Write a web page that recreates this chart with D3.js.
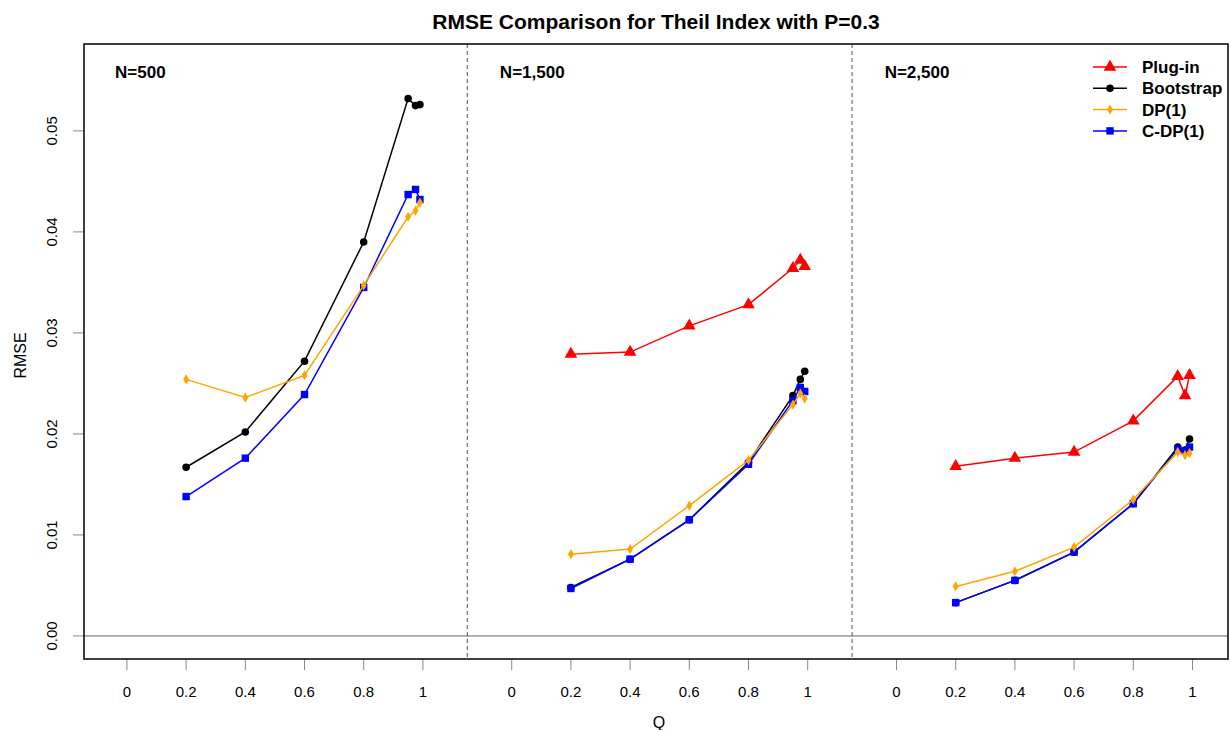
<!DOCTYPE html>
<html>
<head>
<meta charset="utf-8">
<script src="https://cdn.jsdelivr.net/npm/d3@7"></script>
<style>
  body { margin: 0; background: #fff; }
  svg text { font-family: "Liberation Sans", Arial, sans-serif; }
</style>
</head>
<body>
<div id="chart"></div>
<script>
// Q values used in every panel
const qValues = [0.2, 0.4, 0.6, 0.8, 0.95, 0.975, 0.99];
const xTicks = [0, 0.2, 0.4, 0.6, 0.8, 1];
const yTicks = [0, 0.01, 0.02, 0.03, 0.04, 0.05];
const panelLabels = ["N=500", "N=1,500", "N=2,500"];

// RMSE per panel (N=500, N=1,500, N=2,500)
const plugIn = [
    [null, null, null, null, null, null, null],
    [0.0279, 0.0281, 0.0307, 0.0328, 0.0364, 0.0372, 0.0366],
    [0.0168, 0.0176, 0.0182, 0.0213, 0.0257, 0.0238, 0.0258]
];
const bootstrap = [
    [0.0167, 0.0202, 0.0272, 0.0390, 0.0532, 0.0525, 0.0526],
    [0.0048, 0.0076, 0.0115, 0.0172, 0.0238, 0.0254, 0.0262],
    [0.0033, 0.0055, 0.0083, 0.0131, 0.0187, 0.0184, 0.0195]
];
const dp1 = [
    [0.0254, 0.0236, 0.0258, 0.0347, 0.0415, 0.0421, 0.0429],
    [0.0081, 0.0086, 0.0129, 0.0174, 0.0229, 0.0240, 0.0235],
    [0.0049, 0.0064, 0.0088, 0.0135, 0.0182, 0.0179, 0.0181]
];
const cdp1 = [
    [0.0138, 0.0176, 0.0239, 0.0345, 0.0437, 0.0442, 0.0432],
    [0.0047, 0.0076, 0.0115, 0.0170, 0.0233, 0.0246, 0.0242],
    [0.0033, 0.0055, 0.0083, 0.0131, 0.0185, 0.0183, 0.0187]
];

const panelGap = 1.3; // each panel is shifted right by this much on the x scale

const series = [
    { name: "Plug-in", values: plugIn, color: "#ff0000", shape: d3.symbolTriangle, size: 70, legendOrder: 0 },
    { name: "Bootstrap", values: bootstrap, color: "#000000", shape: d3.symbolCircle, size: 45, legendOrder: 1 },
    { name: "C-DP(1)", values: cdp1, color: "#0000ff", shape: d3.symbolSquare, size: 55, legendOrder: 3 },
    { name: "DP(1)", values: dp1, color: "#ffa500", shape: d3.symbolDiamond, size: 30, legendOrder: 2 }
];

const width = 1230, height = 730;
const box = { left: 84, right: 1228, top: 44, bottom: 659 };

const svg = d3.select("#chart").append("svg")
    .attr("width", width)
    .attr("height", height);

const x = d3.scaleLinear().domain([-0.145, 3.72]).range([box.left, box.right]);
const y = d3.scaleLinear().domain([-0.00228, 0.0586]).range([box.bottom, box.top]);

// title
svg.append("text")
    .attr("x", (box.left + box.right) / 2)
    .attr("y", 29)
    .attr("text-anchor", "middle")
    .style("font-weight", "bold")
    .style("font-size", "21px")
    .text("RMSE Comparison for Theil Index with P=0.3");

// zero line
svg.append("line")
    .attr("x1", box.left).attr("x2", box.right)
    .attr("y1", y(0)).attr("y2", y(0))
    .attr("stroke", "#666").attr("stroke-width", 1);

// panel dividers
[1.15, 1.15 + panelGap].forEach(d => {
    svg.append("line")
        .attr("x1", x(d)).attr("x2", x(d))
        .attr("y1", box.top).attr("y2", box.bottom)
        .attr("stroke", "#555")
        .attr("stroke-width", 1)
        .attr("stroke-dasharray", "4,3");
});

// x axis: one set of ticks per panel
const xTickVals = [];
panelLabels.forEach((p, i) => xTicks.forEach(t => xTickVals.push({ pos: t + i * panelGap, label: t })));

const xAxis = svg.append("g").attr("transform", `translate(0,${box.bottom})`);
xAxis.selectAll("line")
    .data(xTickVals)
    .enter()
    .append("line")
    .attr("x1", d => x(d.pos)).attr("x2", d => x(d.pos))
    .attr("y1", 0).attr("y2", 11)
    .attr("stroke", "#888");
xAxis.selectAll("text")
    .data(xTickVals)
    .enter()
    .append("text")
    .attr("x", d => x(d.pos))
    .attr("y", 38)
    .attr("text-anchor", "middle")
    .style("font-size", "15px")
    .text(d => d3.format("")(d.label));

svg.append("text")
    .attr("x", (box.left + box.right) / 2 + 3)
    .attr("y", 728)
    .attr("text-anchor", "middle")
    .style("font-size", "16px")
    .text("Q");

// y axis
const yAxis = svg.append("g");
yAxis.selectAll("line")
    .data(yTicks)
    .enter()
    .append("line")
    .attr("x1", box.left - 11).attr("x2", box.left)
    .attr("y1", d => y(d)).attr("y2", d => y(d))
    .attr("stroke", "#888");
yAxis.selectAll("text")
    .data(yTicks)
    .enter()
    .append("text")
    .attr("transform", d => `translate(57,${y(d)}) rotate(-90)`)
    .attr("text-anchor", "middle")
    .style("font-size", "15px")
    .text(d => d3.format(".2f")(d));

svg.append("text")
    .attr("transform", `translate(26,${(box.top + box.bottom) / 2 + 4}) rotate(-90)`)
    .attr("text-anchor", "middle")
    .style("font-size", "16px")
    .text("RMSE");

// panel labels
panelLabels.forEach((p, i) => {
    svg.append("text")
        .attr("x", x(-0.04 + i * panelGap))
        .attr("y", 78)
        .style("font-weight", "bold")
        .style("font-size", "17px")
        .text(p);
});

// series lines and markers
const line = d3.line()
    .defined(d => d.v != null)
    .x(d => x(d.q))
    .y(d => y(d.v));

series.forEach(s => {
    s.values.forEach((vals, i) => {
        const pts = qValues.map((q, j) => ({ q: q + i * panelGap, v: vals[j] }));
        svg.append("path")
            .datum(pts)
            .attr("fill", "none")
            .attr("stroke", s.color)
            .attr("stroke-width", 1.5)
            .attr("d", line);
        svg.selectAll(null)
            .data(pts.filter(d => d.v != null))
            .enter()
            .append("path")
            .attr("d", d3.symbol().type(s.shape).size(s.size))
            .attr("transform", d => `translate(${x(d.q)},${y(d.v)})`)
            .attr("fill", s.color);
    });
});

// frame
svg.append("rect")
    .attr("x", box.left).attr("y", box.top)
    .attr("width", box.right - box.left)
    .attr("height", box.bottom - box.top)
    .attr("fill", "none")
    .attr("stroke", "#000")
    .attr("stroke-width", 1.5);

// legend
const legendItems = series.slice().sort((a, b) => a.legendOrder - b.legendOrder);
const legend = svg.append("g");
legendItems.forEach((s, i) => {
    const ly = 67 + i * 21.3;
    legend.append("line")
        .attr("x1", 1093).attr("x2", 1127)
        .attr("y1", ly).attr("y2", ly)
        .attr("stroke", s.color).attr("stroke-width", 1.5);
    legend.append("path")
        .attr("d", d3.symbol().type(s.shape).size(s.size))
        .attr("transform", `translate(1110,${ly})`)
        .attr("fill", s.color);
    legend.append("text")
        .attr("x", 1142)
        .attr("y", ly + 6)
        .style("font-weight", "bold")
        .style("font-size", "17px")
        .text(s.name);
});
</script>
</body>
</html>
